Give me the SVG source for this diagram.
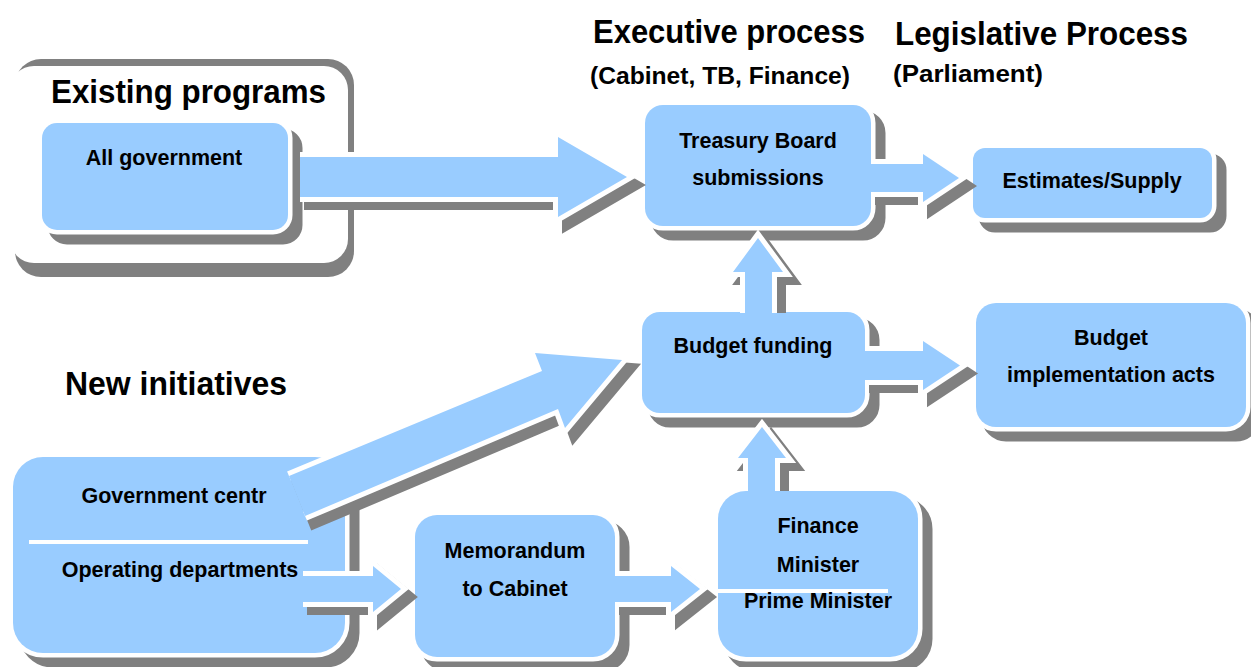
<svg xmlns="http://www.w3.org/2000/svg" width="1251" height="667" viewBox="0 0 1251 667">
<style>
.shd{fill:#808080;stroke:#808080;stroke-width:9;stroke-linejoin:round}
.box{fill:#99CCFF;stroke:#FFFFFF;stroke-width:9;paint-order:stroke}
.ashd{fill:#808080;stroke:#808080;stroke-width:10;stroke-linejoin:miter;stroke-miterlimit:6}
.aout{fill:none;stroke:#FFFFFF;stroke-width:10;stroke-linejoin:miter;stroke-miterlimit:6}
.afill{fill:#99CCFF}
.sep{stroke:#FFFFFF;stroke-width:4}
text{font-family:"Liberation Sans",Arial,sans-serif;font-weight:bold;fill:#000}
.lbl{font-size:21.5px;text-anchor:middle}
.ttl{font-size:34px}
.sub{font-size:24px}
</style>
<rect width="1251" height="667" fill="#FFFFFF"/>

<g id="existing-programs">
  <rect x="15" y="59" width="339" height="218" rx="26" fill="#808080"/>
  <rect x="10" y="66" width="338" height="197" rx="24" fill="#FFFFFF"/>
  <text class="ttl" x="51" y="103" textLength="275" lengthAdjust="spacingAndGlyphs">Existing programs</text>
</g>

<g id="executive-header">
  <text class="ttl" x="593" y="43" textLength="272" lengthAdjust="spacingAndGlyphs">Executive process</text>
  <text class="sub" x="590" y="84" textLength="260" lengthAdjust="spacingAndGlyphs">(Cabinet, TB, Finance)</text>
</g>

<g id="legislative-header">
  <text class="ttl" x="895" y="45" textLength="293" lengthAdjust="spacingAndGlyphs">Legislative Process</text>
  <text class="sub" x="893" y="82" textLength="150" lengthAdjust="spacingAndGlyphs">(Parliament)</text>
</g>

<g id="new-initiatives">
  <text class="ttl" x="65" y="395" textLength="222" lengthAdjust="spacingAndGlyphs">New initiatives</text>
</g>

<g id="all-government">
  <rect class="shd" x="42" y="123" width="246" height="107" rx="15" transform="translate(10,10)"/>
  <rect class="box" x="42" y="123" width="246" height="107" rx="15"/>
  <text class="lbl" x="164" y="165">All government</text>
</g>

<g id="treasury-board">
  <rect class="shd" x="645" y="105" width="226" height="121" rx="18" transform="translate(10,10)"/>
  <rect class="box" x="645" y="105" width="226" height="121" rx="18"/>
  <text class="lbl" x="758" y="148">Treasury Board</text>
  <text class="lbl" x="758" y="185">submissions</text>
</g>

<g id="estimates-supply">
  <rect class="shd" x="973" y="148" width="239" height="70" rx="12" transform="translate(10,10)"/>
  <rect class="box" x="973" y="148" width="239" height="70" rx="12"/>
  <text class="lbl" x="1092" y="188">Estimates/Supply</text>
</g>

<g id="budget-funding">
  <rect class="shd" x="642" y="312" width="223" height="101" rx="18" transform="translate(10,10)"/>
  <rect class="box" x="642" y="312" width="223" height="101" rx="18"/>
  <text class="lbl" x="753" y="353">Budget funding</text>
</g>

<g id="budget-implementation-acts">
  <rect class="shd" x="976" y="303" width="270" height="124" rx="20" transform="translate(10,10)"/>
  <rect class="box" x="976" y="303" width="270" height="124" rx="20"/>
  <text class="lbl" x="1111" y="345">Budget</text>
  <text class="lbl" x="1111" y="382">implementation acts</text>
</g>

<g id="government-centre-operating-departments">
  <rect class="shd" x="13" y="457" width="332" height="196" rx="30" transform="translate(10,10)"/>
  <rect class="box" x="13" y="457" width="332" height="196" rx="30"/>
  <line class="sep" x1="29" y1="542" x2="308" y2="542"/>
  <text class="lbl" x="174" y="503">Government centr</text>
  <text class="lbl" x="180" y="577">Operating departments</text>
</g>

<g id="memorandum-to-cabinet">
  <rect class="shd" x="415" y="515" width="200" height="142" rx="22" transform="translate(10,10)"/>
  <rect class="box" x="415" y="515" width="200" height="142" rx="22"/>
  <text class="lbl" x="515" y="558">Memorandum</text>
  <text class="lbl" x="515" y="596">to Cabinet</text>
</g>

<g id="finance-prime-minister">
  <rect class="shd" x="718" y="491" width="200" height="166" rx="28" transform="translate(10,10)"/>
  <rect class="box" x="718" y="491" width="200" height="166" rx="28"/>
  <line class="sep" x1="716" y1="591" x2="888" y2="591"/>
  <text class="lbl" x="818" y="533">Finance</text>
  <text class="lbl" x="818" y="572">Minister</text>
  <text class="lbl" x="818" y="608">Prime Minister</text>
</g>

<g id="connectors">
  <g id="c-allgov-tb">
    <polygon class="ashd" transform="translate(9,8)" points="300,157 558,157 558,137 627,177 558,217 558,197 300,197"/>
    <polyline class="aout" points="300,157 558,157 558,137 627,177 558,217 558,197 300,197"/>
    <polygon class="afill" points="300,157 558,157 558,137 627,177 558,217 558,197 300,197"/>
  </g>
  <g id="c-tb-estimates">
    <polygon class="ashd" transform="translate(9,8)" points="871,164 923,164 923,154 959,178 923,202 923,192 871,192"/>
    <polyline class="aout" points="871,164 923,164 923,154 959,178 923,202 923,192 871,192"/>
    <polygon class="afill" points="869,164 923,164 923,154 959,178 923,202 923,192 869,192"/>
  </g>
  <g id="c-bf-bia">
    <polygon class="ashd" transform="translate(9,8)" points="865,351 923,351 923,341 960,365.5 923,390 923,380 865,380"/>
    <polyline class="aout" points="865,351 923,351 923,341 960,365.5 923,390 923,380 865,380"/>
    <polygon class="afill" points="863,351 923,351 923,341 960,365.5 923,390 923,380 863,380"/>
  </g>
  <g id="c-bf-tb">
    <polygon class="ashd" transform="translate(9,8)" points="745,300 745,272 733,272 758,238 783,272 772,272 772,300"/>
    <polyline class="aout" points="745,313 745,272 733,272 758,238 783,272 772,272 772,313"/>
    <polygon class="afill" points="745,315 745,272 733,272 758,238 783,272 772,272 772,315"/>
  </g>
  <g id="c-fin-bf">
    <polygon class="ashd" transform="translate(9,8)" points="748,478 748,458 738,458 762,427 786,458 775,458 775,478"/>
    <polyline class="aout" points="748,491 748,458 738,458 762,427 786,458 775,458 775,491"/>
    <polygon class="afill" points="748,493 748,458 738,458 762,427 786,458 775,458 775,493"/>
  </g>
  <g id="c-gov-bf">
    <polygon class="ashd" transform="translate(9,8)" points="305,516 558,409 565,428 622,360 535,353 542,371 289,476"/>
    <polyline class="aout" points="305,516 558,409 565,428 622,360 535,353 542,371 289,476"/>
    <polygon class="afill" points="305,516 558,409 565,428 622,360 535,353 542,371 289,476"/>
  </g>
  <g id="c-ops-memo">
    <polygon class="ashd" transform="translate(9,8)" points="303,576 373,576 373,566 401,589 373,612 373,602 303,602"/>
    <polyline class="aout" points="303,576 373,576 373,566 401,589 373,612 373,602 303,602"/>
    <polygon class="afill" points="303,576 373,576 373,566 401,589 373,612 373,602 303,602"/>
  </g>
  <g id="c-memo-fin">
    <polygon class="ashd" transform="translate(9,8)" points="615,576 671,576 671,566 700,589 671,612 671,602 615,602"/>
    <polyline class="aout" points="615,576 671,576 671,566 700,589 671,612 671,602 615,602"/>
    <polygon class="afill" points="613,576 671,576 671,566 700,589 671,612 671,602 613,602"/>
  </g>
</g>
</svg>
